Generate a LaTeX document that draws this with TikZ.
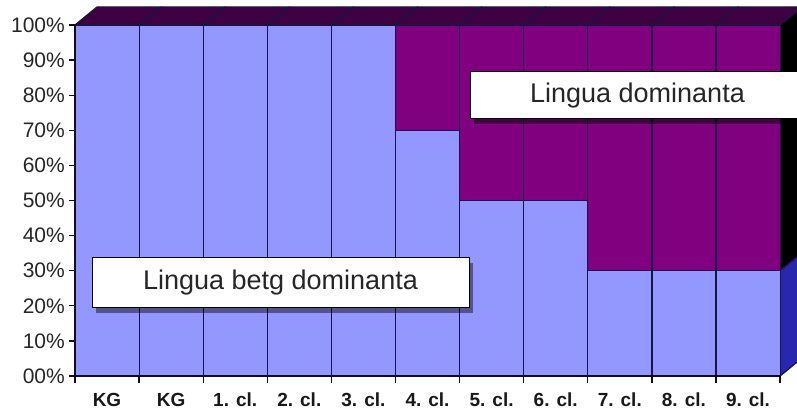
\documentclass[tikz,border=0pt]{standalone}
\usepackage{fontspec}
\setmainfont{Liberation Sans}
\usetikzlibrary{positioning,shadows}
\definecolor{barblue}{RGB}{146,152,255}
\definecolor{barpurple}{RGB}{128,0,128}
\definecolor{toppurple}{RGB}{62,0,62}
\definecolor{sideblue}{RGB}{40,40,175}
\definecolor{edgenavy}{RGB}{25,20,70}

\tikzset{
  barface/.style={draw=edgenavy, line width=1.2pt, line join=round},
  axisline/.style={draw=edgenavy!60!black, line width=1.3pt},
  ylabel/.style={anchor=east, inner sep=0pt, text=black!85, font=\fontsize{21}{21}\selectfont},
  xlabel/.style={anchor=base, inner sep=0pt, text=black!90, font=\fontsize{19}{19}\selectfont\bfseries},
  legendbox/.style={draw=black, line width=1pt, fill=white, inner sep=0pt, text=black!85,
    font=\fontsize{27}{27}\selectfont,
    drop shadow={shadow xshift=4pt, shadow yshift=-5pt, opacity=.45, fill=black}},
}

\begin{document}
\begin{tikzpicture}[x=1pt, y=1pt]
  \useasboundingbox (0,0) rectangle (797,412);
  \clip (0,0) rectangle (797,412);

  % side of the last bar
  \filldraw[barface, fill=black] (780.1,141.3) -- ++(22,18) -- (802.1,405) -- (780.1,387) -- cycle;
  \filldraw[barface, fill=sideblue] (780.1,36) -- ++(22,18) -- (802.1,159.3) -- (780.1,141.3) -- cycle;

  % bars
  \foreach \h [count=\i from 0] in {100,100,100,100,100,70,50,50,30,30,30}{
    \pgfmathsetmacro\xl{75+64.1*\i}
    \pgfmathsetmacro\xr{\xl+64.1}
    \pgfmathsetmacro\yh{36+3.51*\h}
    \filldraw[barface, fill=toppurple] (\xl,387) -- ++(22,18) -- (\xr+22,405) -- (\xr,387) -- cycle;
    \filldraw[barface, fill=barpurple] (\xl,\yh) rectangle (\xr,387);
    \filldraw[barface, fill=barblue] (\xl,36) rectangle (\xr,\yh);
  }

  % axes
  \draw[axisline] (75,36) -- (75,387);
  \draw[axisline] (75,36) -- (780.1,36);
  \foreach \p in {0,...,10}{
    \draw[axisline] (69,36+35.1*\p) -- (75,36+35.1*\p);
    \node[ylabel] (y\p) at (65,36+35.1*\p) {\p0\%};
  }
  \node[ylabel] at (65,36) {\phantom{0}};
  \foreach \i in {0,...,11}
    \draw[axisline] (75+64.1*\i,36) -- (75+64.1*\i,29);
  \foreach \lab [count=\i from 0] in {KG,KG,1. cl.,2. cl.,3. cl.,4. cl.,5. cl.,6. cl.,7. cl.,8. cl.,9. cl.}
    \node[xlabel] (cl\i) at (107+64.1*\i,6) {\lab};

  \node[legendbox, minimum width=377pt, minimum height=50pt] (betg) at (280.5,129) {Lingua betg dominanta};
  \node[legendbox, minimum width=335pt, minimum height=47pt] (dom) at (637.5,316.5) {Lingua dominanta};
\end{tikzpicture}
\end{document}
